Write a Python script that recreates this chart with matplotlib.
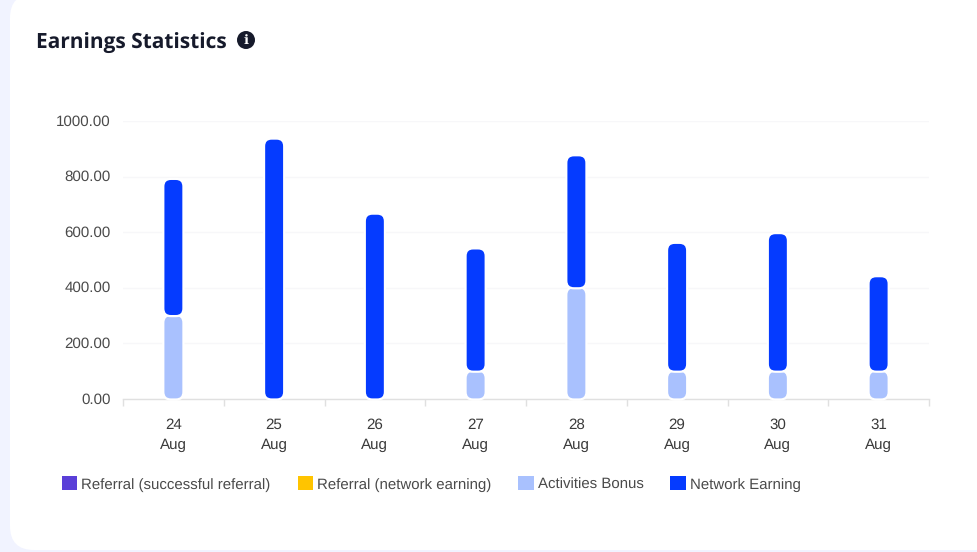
import matplotlib
matplotlib.use('Agg')

import matplotlib.pyplot as plt
from matplotlib.patches import Circle, FancyBboxPatch, Patch
from matplotlib.transforms import ScaledTranslation

dias = ['24', '25', '26', '27', '28', '29', '30', '31']
mes = 'Aug'
activities_bonus = [300, 0, 0, 100, 400, 100, 100, 100]
network_earning = [490, 935, 665, 440, 475, 460, 495, 340]
legendas = ['Referral (successful referral)', 'Referral (network earning)',
            'Activities Bonus', 'Network Earning']
cores = ['#5a3fd8', '#ffc400', '#a9c1fe', '#053bff']
y_ticks = [0, 200, 400, 600, 800, 1000]

LARGURA, ALTURA = 977, 552
COR_FUNDO = '#f1f3ff'
COR_TEXTO = '#4a4a4a'
LARGURA_BARRA = 0.19

plt.rcParams['font.family'] = ['Liberation Sans', 'DejaVu Sans']
plt.rcParams['text.hinting'] = 'no_hinting'

fig = plt.figure(figsize=(LARGURA / 100, ALTURA / 100), dpi=100, facecolor=COR_FUNDO)

# camada de fundo em pixels: cartao branco, titulo e icone
bg = fig.add_axes([0, 0, 1, 1], zorder=0)
bg.set_xlim(0, LARGURA)
bg.set_ylim(ALTURA, 0)
bg.axis('off')
bg.add_patch(FancyBboxPatch((10, -6), 990, 556, boxstyle='round,pad=0,rounding_size=24',
                            facecolor='white', edgecolor='none'))
bg.text(36, 44, 'Earnings Statistics', family='Open Sans', fontsize=15.05, fontweight='bold',
        color='#161a2b', va='center', ha='left')
bg.add_patch(Circle((246, 40), 9, facecolor='#161a2b', edgecolor='none'))
bg.text(246, 40, 'i', family='DejaVu Serif', fontsize=9.5, fontweight='bold', color='white',
        va='center', ha='center')

# area do grafico
x0, x1, y_base, y_topo = 123, 929, 399, 121
ax = fig.add_axes([x0 / LARGURA, 1 - y_base / ALTURA, (x1 - x0) / LARGURA, (y_base - y_topo) / ALTURA],
                  zorder=1)
ax.patch.set_alpha(0)
ax.set_xlim(-0.5, len(dias) - 0.5)
ax.set_ylim(0, 1000)

# proporcao para os cantos das barras ficarem circulares
aspecto = (1000 / (y_base - y_topo)) / (len(dias) / (x1 - x0))


def barra(x, base, altura, cor):
    if altura <= 0:
        return
    ax.add_patch(FancyBboxPatch((x - LARGURA_BARRA / 2, base), LARGURA_BARRA, altura,
                                boxstyle='round,pad=0.005,rounding_size=0.075',
                                mutation_aspect=aspecto, facecolor=cor, edgecolor='white',
                                linewidth=1.6, clip_on=False, zorder=5))


for i in range(len(dias)):
    barra(i, 0, activities_bonus[i], cores[2])
    barra(i, activities_bonus[i], network_earning[i], cores[3])

ax.set_yticks(y_ticks)
ax.set_yticklabels([f'{v:.2f}' for v in y_ticks], fontsize=10.9, color=COR_TEXTO)
ax.tick_params(axis='y', length=0, pad=9)
ax.grid(axis='y', color='#f7f7f9', linewidth=1)
ax.set_axisbelow(True)

# sobe os rotulos do eixo y em 1 pixel
sobe = ScaledTranslation(0, 1 / 100, fig.dpi_scale_trans)
for rotulo in ax.get_yticklabels():
    rotulo.set_transform(rotulo.get_transform() + sobe)

ax.set_xticks([i - 0.5 for i in range(len(dias) + 1)])
ax.set_xticklabels([])
ax.set_xticks(range(len(dias)), [f'{d}\n{mes}' for d in dias], minor=True, fontsize=10.9, color='#3a3a3a',
              linespacing=1.5)
ax.tick_params(axis='x', which='major', length=5, width=1, color='#e0e0e0')
ax.tick_params(axis='x', which='minor', length=0, pad=14)

for lado in ['top', 'right', 'left']:
    ax.spines[lado].set_visible(False)
ax.spines['bottom'].set_color('#e0e0e0')
ax.spines['bottom'].set_linewidth(1)

handles = [Patch(facecolor=c, edgecolor='none') for c in cores]
fig.legend(handles, legendas, ncol=4, frameon=False, fontsize=10.8, labelcolor=COR_TEXTO,
           loc='center left', bbox_to_anchor=(62 / LARGURA, 1 - 484 / ALTURA), borderaxespad=0,
           borderpad=0, handlelength=1.03, handleheight=1.03, handletextpad=0.26, columnspacing=1.8)

fig.savefig('out.png', dpi=100, facecolor=fig.get_facecolor())
